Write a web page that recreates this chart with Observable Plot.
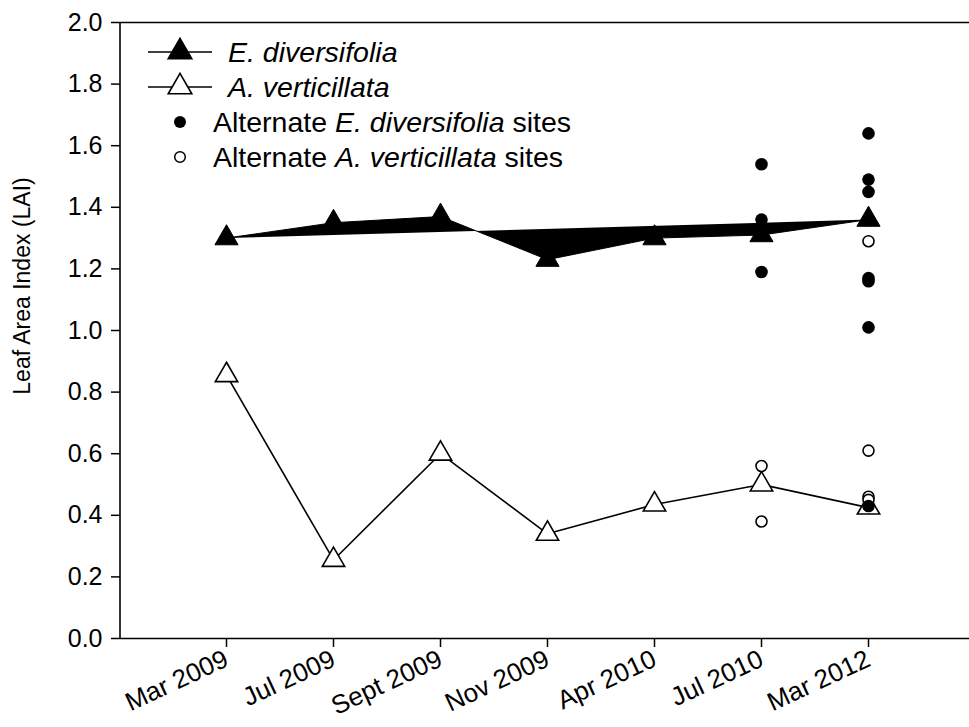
<!DOCTYPE html>
<html>
<head>
<meta charset="utf-8">
<script src="https://cdn.jsdelivr.net/npm/d3@7"></script>
<script src="https://cdn.jsdelivr.net/npm/@observablehq/plot@0.6"></script>
<style>
  html, body { margin: 0; padding: 0; background: #fff; }
  #chart { position: relative; width: 969px; height: 727px; }
  svg { font-family: "Liberation Sans", Arial, sans-serif; }
</style>
</head>
<body>
<div id="chart"></div>
<script>
// Sampling dates (x categories)
const dates = ["Mar 2009", "Jul 2009", "Sept 2009", "Nov 2009", "Apr 2010", "Jul 2010", "Mar 2012"];

// Mean LAI at the main sites
const eDiversifolia = [1.30, 1.35, 1.37, 1.23, 1.30, 1.31, 1.36];
const aVerticillata = [0.855, 0.255, 0.60, 0.34, 0.435, 0.50, 0.425];

// LAI at alternate sites
const altEDates = ["Jul 2010", "Jul 2010", "Jul 2010",
  "Mar 2012", "Mar 2012", "Mar 2012", "Mar 2012", "Mar 2012", "Mar 2012", "Mar 2012"];
const altEValues = [1.54, 1.36, 1.19, 1.64, 1.49, 1.45, 1.17, 1.16, 1.01, 0.43];
const altADates = ["Jul 2010", "Jul 2010", "Mar 2012", "Mar 2012", "Mar 2012", "Mar 2012"];
const altAValues = [0.56, 0.38, 1.29, 0.61, 0.46, 0.45];

// Axis ticks and title
const yTicks = [0, 0.2, 0.4, 0.6, 0.8, 1.0, 1.2, 1.4, 1.6, 1.8, 2.0];
const yTitle = "Leaf Area Index (LAI)";

const eRows = dates.map((d, i) => ({date: d, lai: eDiversifolia[i]}));
const aRows = dates.map((d, i) => ({date: d, lai: aVerticillata[i]}));
const altERows = altEDates.map((d, i) => ({date: d, lai: altEValues[i]}));
const altARows = altADates.map((d, i) => ({date: d, lai: altAValues[i]}));

const Y_TICK_FONT = 25;
const X_TICK_FONT = 26;
const LEGEND_FONT = 28.5;
const TITLE_FONT = 23;

const chart = Plot.plot({
  width: 969,
  height: 727,
  marginLeft: 120,
  marginRight: 0,
  marginTop: 22,
  marginBottom: 89,
  style: {fontSize: Y_TICK_FONT + "px", fontFamily: "Liberation Sans, Arial, sans-serif", color: "#000", background: "#fff"},
  x: {type: "point", domain: dates, padding: 0.967, align: 0.512},
  y: {domain: [0, 2]},
  marks: [
    // top and bottom box lines
    Plot.ruleY([0, 2], {stroke: "#000", strokeWidth: 1.6}),
    Plot.axisY({
      ticks: yTicks, tickFormat: d3.format(".1f"), tickSize: 9, tickPadding: 9,
      label: null, fontSize: Y_TICK_FONT, strokeWidth: 1.5
    }),
    Plot.axisX({
      tickSize: 9, tickPadding: 10, tickRotate: -25, label: null,
      fontSize: X_TICK_FONT, strokeWidth: 1.5
    }),
    // E. diversifolia: series drawn as a filled path
    Plot.line(eRows, {x: "date", y: "lai", stroke: "#000", strokeWidth: 1, fill: "#000"}),
    Plot.dot(eRows, {x: "date", y: "lai", symbol: "triangle", r: 8.6, fill: "#000", stroke: "#000", strokeWidth: 1}),
    // A. verticillata
    Plot.line(aRows, {x: "date", y: "lai", stroke: "#000", strokeWidth: 1.6}),
    Plot.dot(aRows, {x: "date", y: "lai", symbol: "triangle", r: 8.3, fill: "#fff", stroke: "#000", strokeWidth: 1.6}),
    // alternate sites
    Plot.dot(altARows, {x: "date", y: "lai", r: 5.5, fill: "#fff", stroke: "#000", strokeWidth: 1.6}),
    Plot.dot(altERows, {x: "date", y: "lai", r: 6.3, fill: "#000", stroke: "none"})
  ]
});

document.getElementById("chart").appendChild(chart);

const svg = d3.select(chart);

// left axis line
svg.append("line")
  .attr("x1", 120).attr("x2", 120).attr("y1", 22).attr("y2", 638)
  .attr("stroke", "#000").attr("stroke-width", 1.6);

// y axis title
svg.append("text")
  .attr("transform", "translate(22,286) rotate(-90)")
  .attr("text-anchor", "middle")
  .attr("dy", "0.35em")
  .attr("font-size", TITLE_FONT)
  .attr("fill", "#000")
  .text(yTitle);

// legend
const legend = svg.append("g")
  .attr("font-size", LEGEND_FONT)
  .attr("text-anchor", "start")
  .attr("fill", "#000");
const items = [
  {kind: "filledTri", parts: [["E. diversifolia", true]]},
  {kind: "openTri", parts: [["A. verticillata", true]]},
  {kind: "filledDot", parts: [["Alternate ", false], ["E. diversifolia", true], [" sites", false]]},
  {kind: "openDot", parts: [["Alternate ", false], ["A. verticillata", true], [" sites", false]]}
];
const rowY = [52, 87, 122, 157];
const tri = d3.symbol(d3.symbolTriangle, 240);
items.forEach((it, i) => {
  const g = legend.append("g").attr("transform", `translate(180,${rowY[i]})`);
  let textX = 33;
  if (it.kind === "filledTri" || it.kind === "openTri") {
    g.append("line").attr("x1", -32).attr("x2", 32).attr("stroke", "#000").attr("stroke-width", 1.6);
    g.append("path").attr("d", tri())
      .attr("fill", it.kind === "filledTri" ? "#000" : "#fff")
      .attr("stroke", "#000").attr("stroke-width", 1.6);
    textX = 48;
  } else if (it.kind === "filledDot") {
    g.append("circle").attr("r", 6).attr("fill", "#000");
  } else {
    g.append("circle").attr("r", 5.3).attr("fill", "#fff").attr("stroke", "#000").attr("stroke-width", 1.5);
  }
  const t = g.append("text").attr("x", textX).attr("dy", "0.36em");
  it.parts.forEach(([s, ital]) => {
    t.append("tspan").attr("font-style", ital ? "italic" : "normal").text(s);
  });
});
</script>
</body>
</html>
